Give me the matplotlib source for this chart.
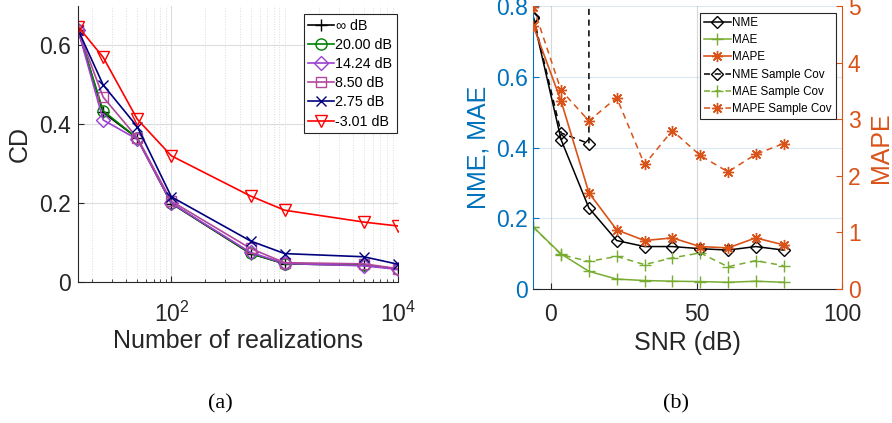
import numpy as np
import matplotlib
matplotlib.use("Agg")
import matplotlib.pyplot as plt
from matplotlib.ticker import FixedLocator, NullFormatter, FixedFormatter

plt.rcParams['font.family'] = ['Liberation Sans', 'DejaVu Sans']
plt.rcParams['mathtext.default'] = 'regular'

# ---------------- data: panel (a) ----------------
realizations = [15, 25, 50, 100, 500, 1000, 5000, 10000]
cd_labels = [r'$\infty$ dB', '20.00 dB', '14.24 dB', '8.50 dB', '2.75 dB', '-3.01 dB']
cd_inf   = [0.640, 0.430, 0.365, 0.199, 0.072, 0.046, 0.043, 0.033]
cd_20    = [0.640, 0.434, 0.365, 0.200, 0.073, 0.046, 0.043, 0.033]
cd_1424  = [0.640, 0.411, 0.362, 0.200, 0.075, 0.047, 0.041, 0.032]
cd_850   = [0.640, 0.469, 0.366, 0.205, 0.085, 0.049, 0.046, 0.034]
cd_275   = [0.640, 0.500, 0.394, 0.216, 0.104, 0.072, 0.064, 0.045]
cd_m301  = [0.648, 0.570, 0.413, 0.320, 0.218, 0.182, 0.152, 0.142]

# ---------------- data: panel (b) ----------------
snr = [-6.02, 3.52, 13.06, 22.60, 32.14, 41.68, 51.22, 60.76, 70.30, 79.84]
nme        = [0.765, 0.422, 0.229, 0.137, 0.120, 0.120, 0.114, 0.110, 0.120, 0.110]
nme_sample = [0.770, 0.441, 0.411, 1e4, 1e4, 1e4, 1e4, 1e4, 1e4, 1e4]
mae        = [0.175, 0.099, 0.050, 0.028, 0.024, 0.022, 0.021, 0.019, 0.022, 0.019]
mae_sample = [0.175, 0.097, 0.078, 0.092, 0.069, 0.088, 0.102, 0.063, 0.080, 0.066]
mape        = [4.65, 3.32, 1.70, 1.045, 0.856, 0.903, 0.750, 0.726, 0.903, 0.780]
mape_sample = [4.98, 3.51, 2.97, 3.38, 2.20, 2.80, 2.36, 2.07, 2.38, 2.57]

W, H = 892, 423
fig = plt.figure(figsize=(W / 100, H / 100), dpi=100)

def rect(x0, y0, x1, y1):
    return [x0 / W, 1 - y1 / H, (x1 - x0) / W, (y1 - y0) / H]

TXT = '#262626'
tick_fs = 16.5
lab_fs = 18

# ---------------- panel (a) ----------------
ax = fig.add_axes(rect(78, 6, 398, 282))
series = [cd_inf, cd_20, cd_1424, cd_850, cd_275, cd_m301]
colors = ['#000000', '#008000', '#9B40D0', '#B0479C', '#00007F', '#FF0000']
markers = ['+', 'o', 'D', 's', 'x', 'v']
msizes = [9, 8, 7, 7, 7, 9]
for vals, c, m, ms, lab in zip(series, colors, markers, msizes, cd_labels):
    ax.plot(realizations, vals, color=c, marker=m, ms=ms, mfc='none', mec=c,
            mew=1.0, lw=1.2, label=lab)
ax.set_xscale('log')
ax.set_xlim(15, 10000)
ax.set_ylim(0, 0.7)
ax.xaxis.set_major_locator(FixedLocator([100, 10000]))
ax.xaxis.set_major_formatter(FixedFormatter([r'$10^2$', r'$10^4$']))
minors = [k * 10 ** e for e in (1, 2, 3) for k in range(1, 10)]
minors = [v for v in minors if 15 <= v <= 10000 and v not in (100, 10000)]
ax.xaxis.set_minor_locator(FixedLocator(minors))
ax.xaxis.set_minor_formatter(NullFormatter())
ax.set_yticks([0, 0.2, 0.4, 0.6])
ax.set_yticklabels(['0', '0.2', '0.4', '0.6'])
ax.grid(which='major', color='#dcdcdc', lw=0.8)
ax.grid(which='minor', axis='x', color='#dcdcdc', lw=0.7, ls=':')
ax.set_axisbelow(True)
for s in ('top', 'right'):
    ax.spines[s].set_visible(False)
for s in ('left', 'bottom'):
    ax.spines[s].set_color(TXT)
ax.tick_params(which='both', direction='in', colors=TXT, labelsize=tick_fs)
ax.tick_params(which='major', length=4)
ax.tick_params(which='minor', length=2.5)
ax.tick_params(axis='x', pad=14)
ax.tick_params(axis='y', pad=5)
ax.set_xlabel('Number of realizations', fontsize=lab_fs, color=TXT, labelpad=2)
ax.set_ylabel('CD', fontsize=lab_fs, color=TXT, labelpad=5)
leg = ax.legend(loc='upper right', bbox_to_anchor=(1.0, 0.978), fontsize=10.3,
                frameon=True, fancybox=False, edgecolor='#262626', framealpha=1,
                handlelength=1.8, handletextpad=0.1, borderpad=0.3,
                labelspacing=0.36, borderaxespad=0.1)
leg.get_frame().set_linewidth(0.8)

# ---------------- panel (b) ----------------
BLUE = '#0072BD'
ORANGE = '#D95319'
GREEN = '#77AC30'
AST = (8, 2, 0)
bx = fig.add_axes(rect(533.3, 6, 842.3, 289))
bx2 = bx.twinx()
l1, = bx.plot(snr, nme, color='k', marker='D', ms=6, mfc='none', mew=1.0, lw=1.1, label='NME')
l2, = bx.plot(snr, mae, color=GREEN, marker='+', ms=8, mew=1.0, lw=1.1, label='MAE')
l4, = bx.plot(snr, nme_sample, color='k', marker='D', ms=6, mfc='none', mew=1.0, lw=1.1,
              ls=(0, (4, 3)), label='NME Sample Cov')
l5, = bx.plot(snr, mae_sample, color=GREEN, marker='+', ms=8, mew=1.0, lw=1.1,
              ls=(0, (4, 3)), label='MAE Sample Cov')
l3, = bx2.plot(snr, mape, color=ORANGE, marker=AST, ms=8, mew=1.0, lw=1.2, label='MAPE')
l6, = bx2.plot(snr, mape_sample, color=ORANGE, marker=AST, ms=8, mew=1.0, lw=1.1,
               ls=(0, (4, 3)), label='MAPE Sample Cov')
bx.set_xlim(-6.02, 100)
bx.set_ylim(0, 0.8)
bx2.set_ylim(0, 5)
bx.set_xticks([0, 50, 100])
bx.set_yticks([0, 0.2, 0.4, 0.6, 0.8])
bx.set_yticklabels(['0', '0.2', '0.4', '0.6', '0.8'])
bx2.set_yticks([0, 1, 2, 3, 4, 5])
bx.grid(axis='y', color=BLUE, alpha=0.15, lw=0.8)
bx.grid(axis='x', color='#bfbfbf', alpha=0.6, lw=0.8)
bx.set_axisbelow(True)
bx.spines['top'].set_visible(False)
bx2.spines['top'].set_visible(False)
bx.spines['right'].set_visible(False)
bx2.spines['left'].set_visible(False)
bx2.spines['bottom'].set_visible(False)
bx.spines['left'].set_color(BLUE)
bx.spines['bottom'].set_color(TXT)
bx2.spines['right'].set_color(ORANGE)
bx.tick_params(axis='x', direction='in', colors=TXT, labelsize=tick_fs, length=4, pad=10)
bx.tick_params(axis='y', direction='in', colors=BLUE, labelsize=tick_fs, length=4, pad=4)
bx2.tick_params(axis='y', direction='in', colors=ORANGE, labelsize=tick_fs, length=4, pad=4)
bx.set_xlabel('SNR (dB)', fontsize=lab_fs, color=TXT, labelpad=4)
bx.set_ylabel('NME, MAE', fontsize=lab_fs, color=BLUE, labelpad=4)
bx2.set_ylabel('MAPE', fontsize=lab_fs, color=ORANGE, labelpad=6)
leg2 = bx2.legend(handles=[l1, l2, l3, l4, l5, l6], loc='upper right',
                  bbox_to_anchor=(0.982, 0.98), fontsize=8.4, frameon=True,
                  fancybox=False, edgecolor='#262626', framealpha=1,
                  handlelength=2.3, handletextpad=0.1, borderpad=0.35,
                  labelspacing=0.45, borderaxespad=0.1)
leg2.get_frame().set_linewidth(0.8)

# captions
fig.text(220 / W, 1 - 404 / H, '(a)', family='Liberation Serif', fontsize=16,
         ha='center', va='center', color='k')
fig.text(676 / W, 1 - 404 / H, '(b)', family='Liberation Serif', fontsize=16,
         ha='center', va='center', color='k')

fig.savefig('out.png', dpi=100)
